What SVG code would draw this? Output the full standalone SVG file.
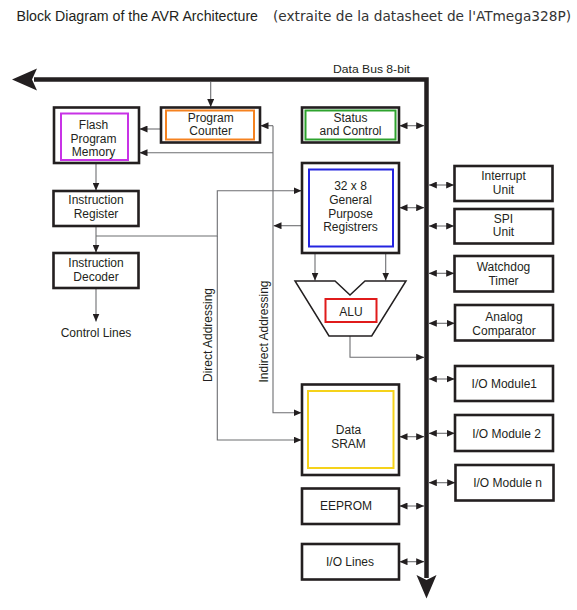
<svg xmlns="http://www.w3.org/2000/svg" width="577" height="610" viewBox="0 0 577 610">
<defs>
<style>
.box{fill:#fff;stroke:#231f20;stroke-width:2.6}
.in{fill:none;stroke-width:2}
.t{font-family:"Liberation Sans",Arial,sans-serif;font-size:12px;fill:#231f20;text-anchor:middle}
.c{fill:none;stroke:#6d6e71;stroke-width:1.1}
.a{marker-end:url(#ah)}
.b{marker-start:url(#ah);marker-end:url(#ah)}
.bus{fill:none;stroke:#231f20;stroke-width:4.5}
</style>
<marker id="ah" viewBox="0 0 8 7" refX="8" refY="3.5" markerWidth="8" markerHeight="7" markerUnits="userSpaceOnUse" orient="auto-start-reverse">
<path d="M0,0 L8,3.5 L0,7 Z" fill="#231f20"/>
</marker>
</defs>
<rect width="577" height="610" fill="#fff"/>
<text x="16.5" y="21" font-family="'Liberation Sans',Arial,sans-serif" font-size="13.8" fill="#231f20" textLength="241.5" lengthAdjust="spacingAndGlyphs">Block Diagram of the AVR Architecture</text>
<text x="273" y="21" font-family="'DejaVu Sans',Verdana,sans-serif" font-size="13.5" fill="#333" textLength="298" lengthAdjust="spacingAndGlyphs">(extraite de la datasheet de l'ATmega328P)</text>

<g id="connectors">
<path class="bus" d="M34,79.5 H426.5 V578"/>
<polygon points="12,79.5 37,68.5 32,79.5 37,90.5" fill="#231f20"/>
<polygon points="426.5,598.5 416.5,575 426.5,580 436.5,575" fill="#231f20"/>
<text class="t" x="371.5" y="72.5" style="font-size:11px" textLength="77" lengthAdjust="spacingAndGlyphs">Data Bus 8-bit</text>

<path class="c a" d="M210.7,82 V107"/>
<path class="c a" d="M160.7,129 H139.5"/>
<path class="c a" d="M273,125.7 H260.5"/>
<path class="c a" d="M273,152.7 H139.5"/>
<path class="c a" d="M273,125.7 V412.7 H301.5"/>
<path class="c a" d="M301.5,225.7 H273.5"/>
<path class="c a" d="M96,163.5 V190.5"/>
<path class="c a" d="M96,226.5 V252.5"/>
<path class="c a" d="M96,236 H217.3 V190.7 H301.5"/>
<path class="c a" d="M217.3,236 V440 H301.5"/>
<path class="c a" d="M96,288.5 V321.5"/>
<path class="c a" d="M315,253.5 V280.5"/>
<path class="c a" d="M385.7,253.5 V280.5"/>
<path class="c a" d="M350,336 V357.3 H424.2"/>

<path class="c b" d="M399.5,125.7 H424.2"/>
<path class="c b" d="M399.5,207.7 H424.2"/>
<path class="c b" d="M399.5,436.7 H424.2"/>
<path class="c b" d="M399.5,506 H424.2"/>
<path class="c b" d="M399.5,561.7 H424.2"/>

<path class="c b" d="M428.8,185 H454.2"/>
<path class="c b" d="M428.8,226 H454.2"/>
<path class="c b" d="M428.8,273.3 H454.2"/>
<path class="c b" d="M428.8,323.3 H454.7"/>
<path class="c b" d="M428.8,379 H454.7"/>
<path class="c b" d="M428.8,433.3 H454.7"/>
<path class="c b" d="M428.8,482.7 H455.2"/>

<text class="t" transform="translate(211.5,335) rotate(-90)">Direct Addressing</text>
<text class="t" transform="translate(267.5,331.5) rotate(-90)">Indirect Addressing</text>
</g>

<g id="flash">
<rect class="box" x="54" y="107.5" width="85" height="55.5"/>
<rect class="in" x="61" y="113.5" width="67" height="46.5" stroke="#c832e6"/>
<text class="t" x="93.5" y="128.5">Flash</text>
<text class="t" x="93.5" y="142.5">Program</text>
<text class="t" x="93.5" y="156">Memory</text>
</g>
<g id="pc">
<rect class="box" x="161" y="107.5" width="99" height="35"/>
<rect class="in" x="166" y="110.5" width="88" height="29" stroke="#f58220"/>
<text class="t" x="210.7" y="121.5">Program</text>
<text class="t" x="210.7" y="135">Counter</text>
</g>
<g id="status">
<rect class="box" x="302" y="107.5" width="97" height="35"/>
<rect class="in" x="305.5" y="110.5" width="90" height="29" stroke="#2ea32e"/>
<text class="t" x="350.5" y="121.5">Status</text>
<text class="t" x="350.5" y="135">and Control</text>
</g>
<g id="ir">
<rect class="box" x="53.5" y="191" width="85" height="35"/>
<text class="t" x="96" y="204">Instruction</text>
<text class="t" x="96" y="217.5">Register</text>
</g>
<g id="id">
<rect class="box" x="53.5" y="253" width="85" height="35"/>
<text class="t" x="96" y="267">Instruction</text>
<text class="t" x="96" y="280.5">Decoder</text>
</g>
<g id="control">
<text class="t" x="96" y="336.5">Control Lines</text>
</g>
<g id="gpr">
<rect class="box" x="302" y="163" width="97" height="90"/>
<rect class="in" x="309" y="169.5" width="84" height="77" stroke="#2424e0"/>
<text class="t" x="350.5" y="190">32 x 8</text>
<text class="t" x="350.5" y="204">General</text>
<text class="t" x="350.5" y="217.5">Purpose</text>
<text class="t" x="350.5" y="231">Registrers</text>
</g>
<g id="alu">
<polygon points="295,281 335,281 350,295 365,281 406,281 371.7,336 329,336" fill="#fff" stroke="#231f20" stroke-width="1.5"/>
<rect class="in" x="325.5" y="299" width="51" height="23" stroke="#e01b1b"/>
<text class="t" x="351" y="315.5">ALU</text>
</g>
<g id="sram">
<rect class="box" x="302" y="384.5" width="97" height="90.5"/>
<rect class="in" x="308" y="391" width="85.5" height="77" stroke="#f5d21a"/>
<text class="t" x="348.5" y="433.5">Data</text>
<text class="t" x="348.5" y="447.5">SRAM</text>
</g>
<g id="eeprom">
<rect class="box" x="302" y="488.5" width="97" height="35.5"/>
<text class="t" x="346" y="510">EEPROM</text>
</g>
<g id="iolines">
<rect class="box" x="302" y="544" width="97" height="35.5"/>
<text class="t" x="350" y="566">I/O Lines</text>
</g>
<g id="interrupt">
<rect class="box" x="454.5" y="166" width="98" height="35"/>
<text class="t" x="503.5" y="180">Interrupt</text>
<text class="t" x="503.5" y="193.5">Unit</text>
</g>
<g id="spi">
<rect class="box" x="454.5" y="209" width="98.5" height="34.5"/>
<text class="t" x="503.5" y="222.5">SPI</text>
<text class="t" x="503.5" y="236">Unit</text>
</g>
<g id="watchdog">
<rect class="box" x="454.5" y="256" width="98.5" height="35.5"/>
<text class="t" x="503.5" y="271">Watchdog</text>
<text class="t" x="503.5" y="284.5">Timer</text>
</g>
<g id="analog">
<rect class="box" x="455" y="305" width="98" height="35.5"/>
<text class="t" x="504" y="321">Analog</text>
<text class="t" x="504" y="334.5">Comparator</text>
</g>
<g id="io1">
<rect class="box" x="455" y="366" width="98" height="35"/>
<text class="t" x="504.3" y="387.5">I/O Module1</text>
</g>
<g id="io2">
<rect class="box" x="455" y="415" width="98" height="36"/>
<text class="t" x="506.5" y="437.5">I/O Module 2</text>
</g>
<g id="ion">
<rect class="box" x="455.5" y="465" width="98" height="35.5"/>
<text class="t" x="507.5" y="487">I/O Module n</text>
</g>
</svg>
